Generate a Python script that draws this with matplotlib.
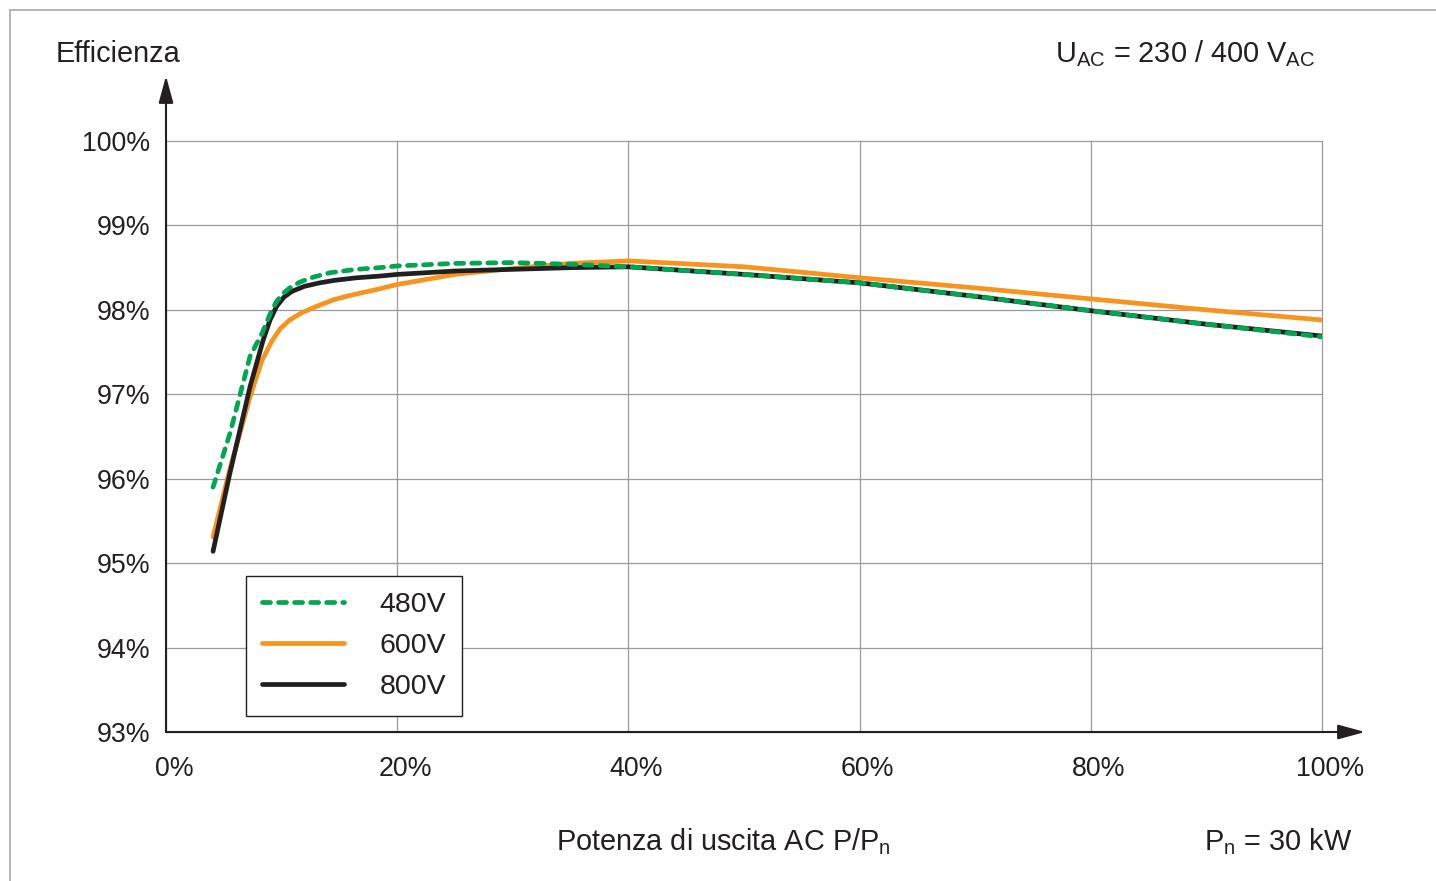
import matplotlib
matplotlib.use("Agg")
import matplotlib.pyplot as plt
from matplotlib.lines import Line2D
from matplotlib.transforms import ScaledTranslation

plt.rcParams['font.family'] = ['Liberation Sans', 'DejaVu Sans']
plt.rcParams['mathtext.fontset'] = 'custom'
plt.rcParams['mathtext.rm'] = 'Liberation Sans'
plt.rcParams['mathtext.it'] = 'Liberation Sans:italic'

# efficiency curves (x in % of Pn, y in %)
x_480 = [4.07, 5.54, 7.27, 8.3, 9.1, 9.56, 10.1, 10.7, 11.6, 12.8, 14.2, 16.5, 18.5, 20, 25, 30, 35, 40, 50, 60, 70, 80, 90, 100]
y_480 = [95.90, 96.54, 97.45, 97.72, 97.98, 98.10, 98.19, 98.26, 98.33, 98.39, 98.44, 98.48, 98.50, 98.52, 98.55, 98.56, 98.54, 98.51, 98.42, 98.32, 98.16, 97.99, 97.83, 97.68]

x_600 = [4.07, 5.5, 7.27, 8.3, 9.2, 9.9, 10.7, 11.8, 13.0, 14.5, 15.9, 18.5, 20, 25, 30, 35, 40, 50, 60, 70, 80, 90, 100]
y_600 = [95.31, 96.10, 96.97, 97.40, 97.64, 97.78, 97.88, 97.97, 98.04, 98.12, 98.17, 98.25, 98.30, 98.42, 98.49, 98.55, 98.58, 98.51, 98.38, 98.26, 98.13, 98.00, 97.88]

x_800 = [4.07, 5.5, 7.27, 8.4, 9.0, 9.56, 10.2, 10.9, 12.0, 13.3, 14.6, 16.5, 18.5, 20, 25, 30, 35, 40, 50, 60, 70, 80, 90, 100]
y_800 = [95.14, 96.05, 97.09, 97.64, 97.88, 98.04, 98.15, 98.22, 98.28, 98.32, 98.35, 98.38, 98.40, 98.42, 98.46, 98.48, 98.50, 98.51, 98.42, 98.32, 98.16, 97.99, 97.83, 97.69]

x_ticks = [0, 20, 40, 60, 80, 100]
x_labels = ['0%', '20%', '40%', '60%', '80%', '100%']
y_ticks = [93, 94, 95, 96, 97, 98, 99, 100]
y_labels = ['93%', '94%', '95%', '96%', '97%', '98%', '99%', '100%']

green = '#00a651'
orange = '#f7941d'
black = '#231f20'
txt = '#231f20'
fs_tick = 19.3
fs = 20.8

W, H = 1436, 881
fig = plt.figure(figsize=(W / 100, H / 100), dpi=100)
ax = fig.add_axes([166 / W, 149 / H, 1156 / W, 591 / H])

ax.plot(x_600, y_600, color=orange, lw=3.4, solid_capstyle='round', solid_joinstyle='round', zorder=3)
ax.plot(x_800, y_800, color=black, lw=3.4, solid_capstyle='round', solid_joinstyle='round', zorder=4)
ax.plot(x_480, y_480, color=green, lw=3.4, linestyle=(0, (1.7, 1.7)), dash_capstyle='round', zorder=5)

ax.set_xlim(0, 100)
ax.set_ylim(93, 100)
ax.set_xticks(x_ticks)
ax.set_xticklabels(x_labels)
ax.set_yticks(y_ticks)
ax.set_yticklabels(y_labels)
ax.tick_params(axis='x', length=0, pad=17, labelsize=fs_tick, labelcolor=txt)
ax.tick_params(axis='y', length=0, pad=11.5, labelsize=fs_tick, labelcolor=txt)
for lab in ax.get_xticklabels():
    lab.set_transform(lab.get_transform() + ScaledTranslation(8 / 100, 0, fig.dpi_scale_trans))

ax.grid(True, color='#9a9a9a', lw=0.9)
for g in ax.get_xgridlines() + ax.get_ygridlines():
    g.set_clip_on(False)
for s in ax.spines.values():
    s.set_visible(False)

# axes with arrow heads
arrow = dict(arrowstyle='-|>,head_length=1.1,head_width=0.3', color='#231f20', lw=1.5,
             mutation_scale=15, shrinkA=0, shrinkB=0)
ax.annotate('', xy=(0, 1.11), xytext=(0, 0), xycoords='axes fraction',
            textcoords='axes fraction', arrowprops=arrow, annotation_clip=False)
ax.annotate('', xy=(1.0372, 0), xytext=(0, 0), xycoords='axes fraction',
            textcoords='axes fraction', arrowprops=arrow, annotation_clip=False)

handles = [
    Line2D([], [], color=green, lw=3.4, linestyle=(0, (1.7, 1.7)), dash_capstyle='round'),
    Line2D([], [], color=orange, lw=3.4, solid_capstyle='round'),
    Line2D([], [], color=black, lw=3.4, solid_capstyle='round'),
]
leg = ax.legend(handles, ['480V', '600V', '800V'], loc='lower left',
                bbox_to_anchor=(0.0692, 0.0271), borderaxespad=0, fontsize=20.5,
                handlelength=2.9, handletextpad=1.25, labelspacing=0.54,
                borderpad=0.55, fancybox=False, framealpha=1, edgecolor='#231f20')
leg.get_frame().set_linewidth(1.0)
for t in leg.get_texts():
    t.set_color(txt)

fig.text(56 / W, 1 - 62 / H, 'Efficienza', fontsize=fs, color=txt, ha='left', va='baseline')
fig.text(1315 / W, 1 - 62 / H, r'U$_{\mathrm{AC}}$ = 230 / 400 V$_{\mathrm{AC}}$',
         fontsize=fs, color=txt, ha='right', va='baseline')
fig.text(723 / W, 1 - 850 / H, r'Potenza di uscita AC P/P$_{\mathrm{n}}$',
         fontsize=fs, color=txt, ha='center', va='baseline')
fig.text(1352 / W, 1 - 850 / H, r'P$_{\mathrm{n}}$ = 30 kW',
         fontsize=fs, color=txt, ha='right', va='baseline')

# light frame around the picture
fig.add_artist(Line2D([10 / W, 1.0], [1 - 10 / H, 1 - 10 / H], color='#a8a8a8', lw=1.2))
fig.add_artist(Line2D([10 / W, 10 / W], [0.0, 1 - 10 / H], color='#a8a8a8', lw=1.2))

fig.savefig('out.png', dpi=100, facecolor='white')
